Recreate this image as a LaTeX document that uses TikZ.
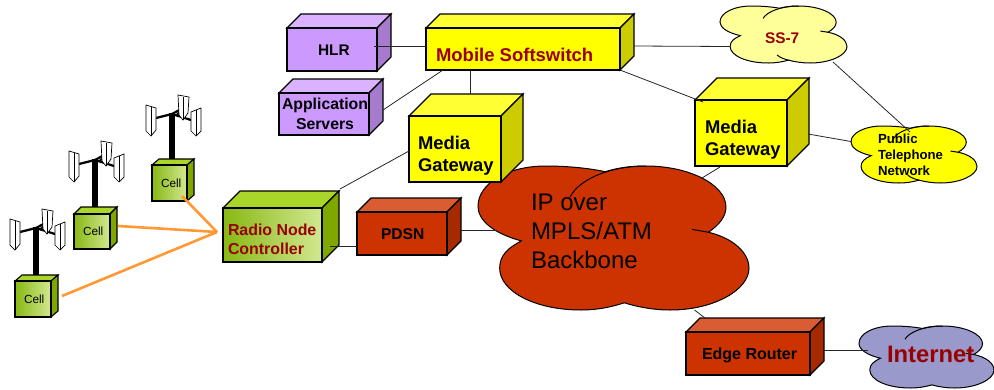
\documentclass[tikz,border=0pt]{standalone}
\usepackage{fontspec}
\setmainfont{Liberation Sans}
\definecolor{redtxt}{HTML}{990000}
\definecolor{orangelink}{RGB}{255,153,51}
\tikzset{
  edgeline/.style={draw=black,line width=1.1pt,line join=miter},
  wire/.style={draw=black!85,line width=0.8pt},
  orangeline/.style={draw=orangelink,line width=2.6pt},
  purple front/.style={fill={rgb,255:red,204;green,153;blue,255}},
  purple top/.style={fill={rgb,255:red,217;green,179;blue,255}},
  purple side/.style={fill={rgb,255:red,166;green,122;blue,204}},
  yellow front/.style={fill={rgb,255:red,255;green,255;blue,0}},
  yellow top/.style={fill={rgb,255:red,255;green,255;blue,51}},
  yellow side/.style={fill={rgb,255:red,204;green,204;blue,0}},
  red front/.style={fill={rgb,255:red,204;green,51;blue,0}},
  red top/.style={fill={rgb,255:red,217;green,92;blue,51}},
  red side/.style={fill={rgb,255:red,166;green,41;blue,0}},
  green front/.style={left color={rgb,255:red,136;green,184;blue,20},right color={rgb,255:red,210;green,232;blue,145}},
  green top/.style={fill={rgb,255:red,170;green,214;blue,42}},
  green side/.style={fill={rgb,255:red,128;green,166;blue,0}},
  txt/.style={anchor=base west,inner sep=0pt,outer sep=0pt,text=black},
}
% name, x, y, w, h, dx, dy, colour family
\newcommand{\cubebox}[8]{%
  \path[edgeline,#8 top] (#2,#3) -- (#2+#6,#3-#7) -- (#2+#4+#6,#3-#7) -- (#2+#4,#3) -- cycle;
  \path[edgeline,#8 side] (#2+#4,#3) -- (#2+#4+#6,#3-#7) -- (#2+#4+#6,#3+#5-#7) -- (#2+#4,#3+#5) -- cycle;
  \node[edgeline,#8 front,rectangle,inner sep=0pt,outer sep=0pt,anchor=north west,minimum width=#4pt,minimum height=#5pt] (#1) at (#2,#3) {};
}
% name, x, y, w, h, fill colour spec, extra path
\newcommand{\cloudshape}[7]{%
  \node[inner sep=0pt,outer sep=0pt,anchor=north west,minimum width=#4pt,minimum height=#5pt] (#1) at (#2,#3) {};
  \begin{scope}[shift={(#2,#3)},xscale={#4/100},yscale={#5/100}]
    \path[draw=black,line width=1pt,fill={rgb,255:#6}] (16,52) .. controls (6,47) and (0,38) .. (0,28)
      .. controls (0,12) and (11,0) .. (25,0)
      .. controls (33,0) and (41,1.5) .. (47,4)
      .. controls (51,1.5) and (56,0) .. (62,0)
      .. controls (78,0) and (91.5,13) .. (91.5,28.5)
      .. controls (91.5,35) and (89,41) .. (85,46)
      .. controls (94,50) and (100,60) .. (100,71)
      .. controls (100,86) and (87,100) .. (71,100)
      .. controls (65,100) and (59,98) .. (54,95)
      .. controls (49,98) and (44,100) .. (38,100)
      .. controls (21,100) and (8,87) .. (8,71)
      .. controls (8,62) and (11,57) .. (16,52) -- cycle;
    \draw[line width=1pt] (34,21.5) .. controls (37,10) and (48,0) .. (62,0);
    \draw[line width=1pt] (79,44) -- (85,46);
    #7
  \end{scope}
}
% x of mast, y of mast top, y of mast bottom
\newcommand{\antenna}[3]{%
  \begin{scope}[shift={(#1,#2)}]
    \draw[line width=2.2pt] (-16,5) -- (0,1) -- (19,7);
    \draw[line width=2.2pt] (0,1) -- (11,-5);
    \draw[line width=2.2pt] (4,3) -- (11,-5);
    \path[draw=black,line width=0.7pt,fill=white] (6,-18) -- (17,-16) -- (16,0) -- (11,7) -- (7,2) -- cycle;
    \draw[line width=0.7pt] (11,-16) -- (11,7);
    \path[draw=black,line width=0.7pt,fill=white] (-26,-8) -- (-16,-5) -- (-16,17) -- (-21,23) -- (-26,18) -- cycle;
    \draw[line width=0.7pt] (-21,-6) -- (-21,23);
    \path[draw=black,line width=0.7pt,fill=white] (19,-1) -- (29,-5) -- (29,18) -- (24,23) -- (19,18) -- cycle;
    \draw[line width=0.7pt] (24,-3) -- (24,23);
  \end{scope}
  \draw[line width=5.5pt] (#1,#2) -- (#1,#3);
}
\begin{document}
\begin{tikzpicture}[x=1pt,y=-1pt]
\useasboundingbox (0,0) rectangle (994,389);

% clouds
\cloudshape{ss7}{720}{6}{127}{57}{red,255;green,255;blue,153}{\draw[line width=1pt] (54,95) .. controls (50,93) and (47,90) .. (45,86);}
\cloudshape{pstn}{851}{126}{126}{57}{red,255;green,255;blue,0}{\draw[line width=1pt] (54,95) .. controls (50,93) and (47,90) .. (45,86);}
\cloudshape{backbone}{478}{166}{271}{144}{red,204;green,51;blue,0}{}
\cloudshape{internet}{859}{326}{135}{62}{red,153;green,153;blue,204}{}

% cubes
\cubebox{hlr}{287}{28}{90}{43}{14}{14}{purple}
\cubebox{apps}{279}{93}{90}{42}{14}{14}{purple}
\cubebox{soft}{426}{28}{194}{42}{14}{14}{yellow}
\cubebox{mgone}{409}{116}{92}{66}{22}{22}{yellow}
\cubebox{mgtwo}{695}{100}{92}{66}{22}{22}{yellow}
\cubebox{rnc}{223}{208}{99}{54}{17}{17}{green}
\cubebox{pdsn}{357}{212}{90}{43}{14}{14}{red}
\cubebox{edge}{686}{332}{124}{43}{14}{14}{red}
\cubebox{cellc}{152}{165}{35}{36}{7}{6}{green}
\cubebox{cellb}{74}{214}{36}{35}{7}{7}{green}
\cubebox{cella}{15}{281}{36}{36}{7}{6}{green}

% antennas
\antenna{172}{113}{159}
\antenna{95}{159}{207}
\antenna{36}{227}{275}

% connectors
\draw[wire] ([shift={(-3,-3.5)}]hlr.east) -- ([shift={(0,-3)}]soft.west);
\draw[wire] ([shift={(14,-4)}]apps.east) -- ([shift={(-80,0)}]soft.south);
\draw[wire] ([shift={(-53,0)}]soft.south) -- ([shift={(15,-22)}]mgone.north);
\draw[wire] ([shift={(14,-3)}]soft.east) -- ([shift={(10,12)}]ss7.west);
\draw[wire] (soft.south east) -- ([shift={(8,2)}]mgtwo.north west);
\draw[wire] ([shift={(-14,56)}]ss7.north east) -- ([shift={(-4,6)}]pstn.north);
\draw[wire] ([shift={(21,1)}]mgtwo.east) -- ([shift={(0,-13)}]pstn.west);
\draw[wire] ([shift={(-21,1)}]mgtwo.south) -- ([shift={(-47,-60)}]backbone.east);
\draw[wire] ([shift={(0,2)}]mgone.west) -- ([shift={(18,-19)}]rnc.north east);
\draw[wire] ([shift={(8,11)}]rnc.east) -- ([shift={(0,12.5)}]pdsn.west);
\draw[wire] ([shift={(14,-3.5)}]pdsn.east) -- ([shift={(18,-8)}]backbone.west);
\draw[wire] ([shift={(81,0)}]backbone.south) -- ([shift={(-43,-14)}]edge.north);
\draw[wire] ([shift={(14,-3.5)}]edge.east) -- ([shift={(9,-7)}]internet.west);

% orange links
\coordinate (hub) at ([shift={(-6,-3)}]rnc.west);
\coordinate (fromc) at ([shift={(-5,-5)}]cellc.south east);
\coordinate (fromb) at ([shift={(8,-5.5)}]cellb.east);
\coordinate (froma) at ([shift={(11,-3)}]cella.east);
\draw[orangeline] (fromc) -- (hub);
\draw[orangeline] (fromb) -- (hub);
\draw[orangeline] (froma) -- (hub);

% labels
\node[txt] (t1) at (436,61) {\fontsize{18.5}{22}\selectfont\bfseries\color{redtxt}Mobile Softswitch};
\node[txt] (t2) at (318,55) {\fontsize{15.4}{18}\selectfont\bfseries HLR};
\node[txt] (t3) at (282,109) {\fontsize{15.8}{20}\selectfont\bfseries\begin{tabular}[t]{@{}c@{}}Application\\Servers\end{tabular}};
\node[txt] (t4) at (418,149) {\fontsize{18.4}{22}\selectfont\bfseries\begin{tabular}[t]{@{}l@{}}Media\\Gateway\end{tabular}};
\node[txt] (t5) at (705,133) {\fontsize{18.4}{22}\selectfont\bfseries\begin{tabular}[t]{@{}l@{}}Media\\Gateway\end{tabular}};
\node[txt] (t6) at (228,235) {\fontsize{15.9}{19}\selectfont\bfseries\color{redtxt}\begin{tabular}[t]{@{}l@{}}Radio Node\\Controller\end{tabular}};
\node[txt] (t7) at (381,239) {\fontsize{15.6}{18}\selectfont\bfseries PDSN};
\node[txt] (t8) at (702,359) {\fontsize{16}{18}\selectfont\bfseries Edge Router};
\node[txt] (t9) at (765,43) {\fontsize{15.4}{18}\selectfont\bfseries\color{redtxt}SS-7};
\node[txt] (t10) at (878,143) {\fontsize{13.2}{16}\selectfont\bfseries\begin{tabular}[t]{@{}l@{}}Public\\Telephone\\Network\end{tabular}};
\node[txt] (t11) at (531,210) {\fontsize{24}{29}\selectfont\begin{tabular}[t]{@{}l@{}}IP over\\MPLS/ATM\\Backbone\end{tabular}};
\node[txt] (t12) at (887,362) {\fontsize{23.8}{28}\selectfont\bfseries\color{redtxt}Internet};
\node[txt] (t13) at (161,187) {\fontsize{11.8}{14}\selectfont Cell};
\node[txt] (t14) at (83,235) {\fontsize{11.8}{14}\selectfont Cell};
\node[txt] (t15) at (24,303) {\fontsize{11.8}{14}\selectfont Cell};
\end{tikzpicture}
\end{document}
